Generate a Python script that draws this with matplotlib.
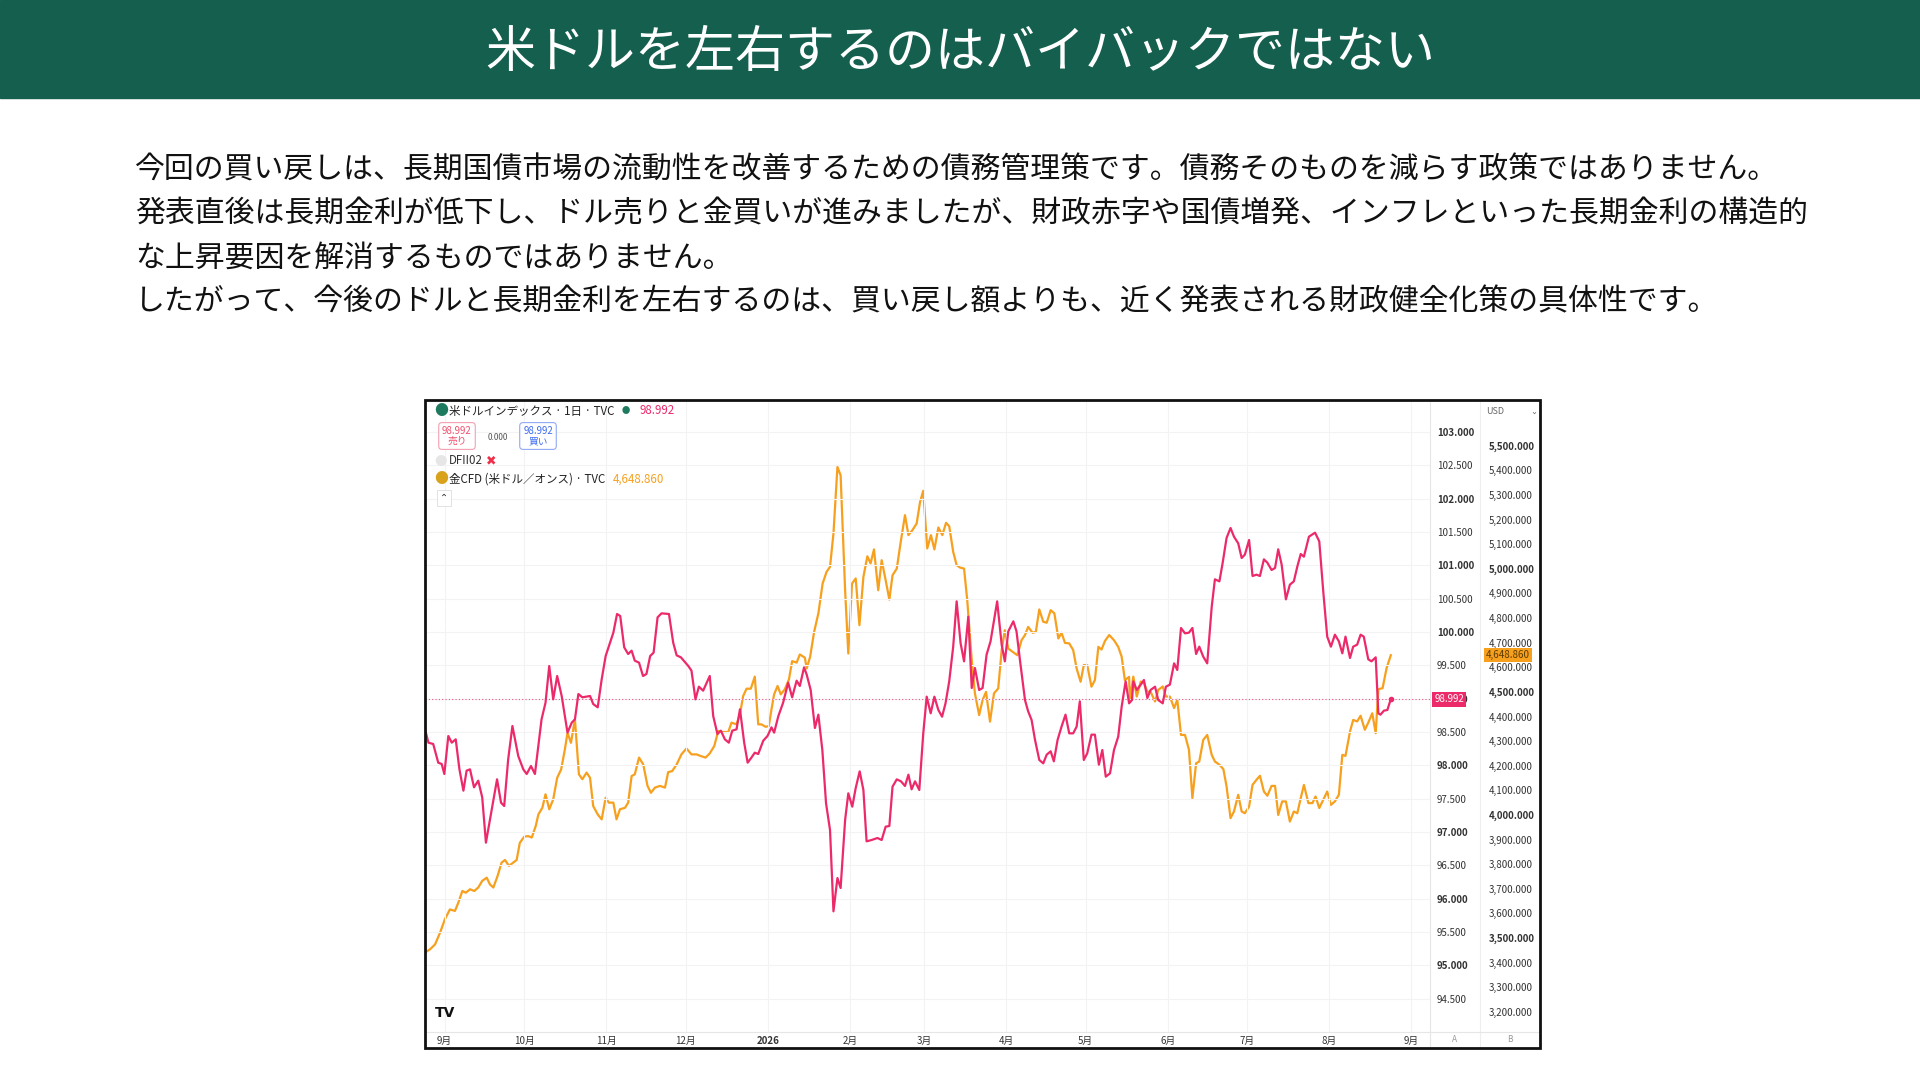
import numpy as np
import pandas as pd
import matplotlib
matplotlib.use("Agg")
import matplotlib.pyplot as plt
from matplotlib.patches import Rectangle

plt.rcParams['font.family'] = ['Noto Sans CJK JP', 'DejaVu Sans']

# ---- text ----
title = "米ドルを左右するのはバイバックではない"
body = [
    "今回の買い戻しは、長期国債市場の流動性を改善するための債務管理策です。債務そのものを減らす政策ではありません。",
    "発表直後は長期金利が低下し、ドル売りと金買いが進みましたが、財政赤字や国債増発、インフレといった長期金利の構造的",
    "な上昇要因を解消するものではありません。",
    "したがって、今後のドルと長期金利を左右するのは、買い戻し額よりも、近く発表される財政健全化策の具体性です。",
]

# ---- data (days since 2025-09-01) ----
dxy_day = [-7.4, -6.1, -4.3, -2.4, -1.1, -0.1, 1.4, 2.7, 4.2, 5.6, 7.1, 8.3, 9.6, 11.1, 12.7, 14.2, 15.6, 17.8,
           19.8, 21.3, 22.5, 24.0, 25.6, 27.8, 29.7, 31.0, 32.6, 34.1, 36.6, 38.1, 39.5, 41.0, 42.5, 44.2, 46.4,
           48.0, 49.2, 50.5, 52.0, 54.9, 56.1, 57.8, 59.3, 60.8, 63.7, 65.1, 66.3, 67.8, 69.3, 70.6, 71.8, 73.4,
           74.9, 76.2, 77.6, 78.9, 80.4, 81.9, 84.7, 86.3, 87.6, 89.2, 92.0, 93.2, 94.7, 96.0, 97.6, 100.1, 101.4,
           103.0, 104.3, 105.8, 107.3, 108.6, 110.2, 111.5, 113.1, 114.4, 115.9, 117.1, 118.4, 120.3, 121.9, 123.4,
           124.4, 126.0, 127.8, 129.7, 131.2, 132.9, 134.1, 135.7,
           136.7, 138.2, 139.8, 141.1, 142.6, 144.0, 145.5, 146.8, 148.3, 149.5, 151.2, 152.4, 153.9, 155.2, 156.7,
           158.1, 159.3, 161.2, 163.4, 165.0, 166.5, 167.9, 169.1, 170.7, 172.3, 173.8, 175.1, 176.3, 177.6, 179.2,
           180.7, 182.0, 183.5, 184.9, 186.4, 187.8, 189.1, 190.5, 192.0, 193.3, 194.8, 196.1, 197.7, 199.0, 200.2,
           201.8, 203.1, 204.6, 206.1, 208.6, 210.3, 211.5, 212.8, 214.7, 215.9, 217.2, 219.1, 220.3, 221.6, 222.9,
           224.5, 226.0, 227.3, 228.8, 230.0, 231.4, 232.9, 234.4, 235.8, 237.3, 238.6, 239.8, 241.3, 242.6, 244.2,
           245.5, 247.0, 248.3, 249.6, 251.2, 252.7, 254.3, 255.6, 257.1, 258.4,
           259.5, 260.0, 261.3, 262.8, 264.0, 265.3, 266.5, 268.2, 269.4, 271.1, 272.3, 273.8, 275.4, 276.6, 278.0,
           279.5, 281.0, 282.3, 283.7, 284.9, 286.4, 287.9, 289.6, 290.8, 292.5, 293.7, 295.2, 296.7, 298.0, 299.6,
           300.9, 302.1, 303.7, 305.0, 306.5, 307.8, 309.3, 310.6, 312.2, 313.5, 314.7, 316.0, 317.6, 319.1, 320.6,
           321.9, 323.2, 324.4, 326.3, 328.6, 330.2, 331.7, 333.2, 334.6, 336.1, 337.6, 338.9, 340.1, 341.8, 343.0,
           344.5, 345.8, 347.0, 348.7, 349.9, 351.5, 352.5, 353.3, 354.6, 355.9, 357.2]
dxy_val = [98.54, 98.34, 98.32, 98.04, 98.02, 97.87, 98.44, 98.34, 98.39, 97.94, 97.62, 97.92, 97.94, 97.67, 97.77,
           97.52, 96.84, 97.34, 97.79, 97.44, 97.39, 98.09, 98.59, 98.14, 97.94, 97.87, 97.99, 97.87, 98.69, 98.94,
           99.49, 98.99, 99.34, 99.04, 98.49, 98.64, 98.69, 99.07, 99.02, 99.04, 98.92, 98.87, 99.29, 99.64, 99.99,
           100.27, 100.24, 99.77, 99.67, 99.72, 99.57, 99.54, 99.34, 99.37, 99.64, 99.69, 100.22, 100.28, 100.27,
           99.84, 99.65, 99.62, 99.49, 99.42, 98.99, 99.18, 99.12, 99.34, 98.74, 98.47, 98.52, 98.39, 98.34, 98.52,
           98.54, 98.84, 98.34, 98.04, 98.12, 98.19, 98.17, 98.37, 98.44, 98.57, 98.49, 98.74, 98.94, 99.24, 99.02,
           99.27, 99.19, 99.47,
           99.36, 99.13, 98.56, 98.76, 98.23, 97.43, 97.03, 95.81, 96.31, 96.16, 97.18, 97.58, 97.38, 97.66, 97.91,
           97.63, 96.86, 96.88, 96.91, 96.88, 97.08, 97.09, 97.68, 97.79, 97.76, 97.69, 97.86, 97.64, 97.76, 97.63,
           98.48, 99.03, 98.78, 99.03, 98.83, 98.73, 98.93, 99.26, 99.78, 100.46, 99.83, 99.56, 100.23, 99.16, 99.46,
           99.13, 99.16, 99.66, 99.86, 100.46, 99.81, 99.56, 100.01, 100.16, 100.01, 99.58, 98.98, 98.81, 98.68,
           98.38, 98.08, 98.03, 98.16, 98.21, 98.06, 98.38, 98.58, 98.76, 98.48, 98.48, 98.58, 98.96, 98.08, 98.18,
           98.46, 98.46, 98.01, 98.23, 97.83, 97.88, 98.23, 98.43, 98.88, 99.26, 98.93,
           98.98, 99.26, 99.13, 99.21, 99.28, 99.01, 99.13, 99.18, 98.98, 98.93, 99.18, 99.21, 99.53, 99.43, 100.06,
           99.98, 99.99, 100.06, 99.67, 99.78, 99.63, 99.53, 100.38, 100.79, 100.76, 101.03, 101.41, 101.56, 101.43,
           101.33, 101.11, 101.16, 101.38, 100.84, 100.86, 100.84, 101.09, 101.04, 100.93, 100.96, 101.24, 101.01,
           100.49, 100.71, 100.76, 100.98, 101.17, 101.13, 101.43, 101.49, 101.36, 100.61, 99.93, 99.78, 99.96,
           99.86, 99.68, 99.93, 99.61, 99.78, 99.81, 99.96, 99.93, 99.59, 99.56, 99.62, 98.78, 98.76, 98.82, 98.83,
           98.992]

gold_day = [-7.4, -5.5, -3.6, -1.7, 0.1, 2.0, 3.9, 5.2, 6.7, 8.0, 9.6, 11.2, 12.7, 14.2, 15.9, 17.1, 18.4, 20.0,
            21.5, 22.8, 24.3, 25.9, 27.2, 28.4, 30.1, 31.6, 32.9, 34.4, 35.4, 36.9, 38.1, 39.5, 41.0, 42.5, 44.0,
            45.4, 46.4, 47.7, 49.2, 50.7, 52.0, 53.6, 54.9, 56.1, 57.8, 59.3, 60.8, 62.0, 63.7, 64.9, 66.2, 68.1,
            69.3, 70.6, 71.8, 73.4, 75.0, 76.6, 77.9, 79.4, 81.3, 83.2, 84.4, 85.9, 87.6, 89.4, 91.3, 93.2, 95.1,
            96.8, 98.5, 100.1, 101.8, 103.3, 104.5, 107.1, 108.3, 110.2, 111.5, 112.7, 114.0, 115.6, 117.1, 118.4,
            119.6, 121.2, 122.4, 123.4, 124.4, 125.7, 126.9, 128.4, 130.0, 131.2, 132.9, 134.1, 136.0,
            136.7, 138.0, 139.5, 141.1, 142.7, 144.2, 145.5, 146.8, 148.3, 149.5, 151.2, 152.4, 153.8, 155.2, 156.6,
            158.1, 159.6, 160.8, 162.1, 163.7, 165.0, 166.5, 167.9, 169.1, 170.7, 172.2, 173.8, 175.1, 176.6, 178.2,
            179.5, 180.7, 182.2, 183.6, 184.9, 186.4, 187.9, 189.3, 190.5, 192.0, 193.3, 194.6, 196.1, 197.3, 199.0,
            200.2, 201.8, 203.1, 204.4, 205.9, 207.4, 209.0, 210.3, 211.5, 212.8, 214.4, 216.2, 217.8, 219.1, 220.3,
            222.0, 223.2, 224.5, 226.0, 227.3, 228.8, 230.2, 231.7, 232.9, 234.2, 235.8, 237.3, 238.6, 240.1, 241.3,
            242.6, 244.2, 245.5, 246.8, 248.0, 249.3, 250.9, 252.7, 254.3, 255.6, 256.8, 258.4,
            258.7, 260.0, 261.3, 262.8, 264.0, 265.3, 266.5, 268.2, 269.4, 271.1, 272.3, 273.8, 275.4, 276.6, 278.0,
            279.5, 281.0, 282.3, 283.7, 284.9, 286.4, 287.9, 289.6, 290.8, 292.5, 294.0, 295.2, 296.7, 298.0, 299.6,
            300.9, 302.1, 303.7, 305.0, 306.5, 307.8, 309.3, 310.6, 312.2, 313.5, 314.7, 316.2, 317.6, 319.1, 320.6,
            321.9, 323.2, 324.4, 326.1, 327.6, 328.8, 330.2, 331.7, 333.2, 334.6, 336.1, 337.6, 338.9, 340.1, 341.8,
            343.0, 344.5, 345.8, 347.4, 348.7, 350.2, 351.5, 352.5, 354.1, 355.6, 357.2]
gold_val = [3441, 3454, 3474, 3522, 3576, 3616, 3610, 3644, 3691, 3684, 3698, 3691, 3705, 3732, 3745, 3718, 3705,
            3752, 3806, 3817, 3793, 3806, 3817, 3887, 3912, 3914, 3908, 3955, 4002, 4029, 4084, 4023, 4063, 4151,
            4185, 4266, 4334, 4293, 4388, 4165, 4145, 4172, 4151, 4036, 4002, 3982, 4070, 4050, 4050, 3982, 4023,
            4029, 4050, 4158, 4165, 4233, 4205, 4118, 4090, 4111, 4118, 4111, 4174, 4178, 4205, 4246, 4270, 4246,
            4246, 4239, 4233, 4250, 4280, 4341, 4337, 4337, 4375, 4368, 4409, 4483, 4513, 4513, 4562, 4368, 4368,
            4358, 4361, 4429, 4490, 4524, 4490, 4510, 4551, 4625, 4619, 4652, 4639,
            4595, 4643, 4744, 4819, 4940, 4988, 5008, 5144, 5414, 5380, 4913, 4656, 4940, 4961, 4771, 4967, 5051,
            5022, 5079, 4913, 5035, 4954, 4875, 4974, 5001, 5110, 5218, 5137, 5157, 5184, 5272, 5317, 5083, 5137,
            5079, 5168, 5137, 5187, 5173, 5069, 5015, 5005, 5001, 4873, 4629, 4494, 4406, 4467, 4500, 4379, 4494,
            4514, 4670, 4751, 4676, 4663, 4649, 4710, 4731, 4764, 4740, 4744, 4835, 4785, 4781, 4832, 4819, 4717,
            4740, 4699, 4697, 4670, 4595, 4541, 4609, 4609, 4521, 4548, 4683, 4672, 4707, 4731, 4710, 4683, 4643,
            4548, 4561,
            4468, 4562, 4481, 4542, 4535, 4501, 4501, 4461, 4508, 4522, 4481, 4481, 4434, 4468, 4325, 4325, 4265,
            4068, 4210, 4217, 4305, 4325, 4244, 4217, 4204, 4186, 4116, 3987, 4014, 4082, 4014, 4007, 4034, 4122,
            4143, 4159, 4095, 4078, 4118, 4118, 4000, 4055, 4055, 3973, 4014, 4007, 4068, 4122, 4048, 4048, 4075,
            4028, 4061, 4095, 4041, 4055, 4082, 4244, 4240, 4339, 4386, 4380, 4403, 4346, 4375, 4413, 4332, 4511,
            4515, 4596, 4648.86]

month_labels = ["9月", "10月", "11月", "12月", "2026", "2月", "3月", "4月", "5月", "6月", "7月", "8月", "9月"]
dxy_last = 98.992
gold_last = 4648.86

PINK = "#ec2a6a"
GOLD = "#f7a01e"
GREEN = "#155f4f"

W, H = 1920, 1080
fig = plt.figure(figsize=(19.2, 10.8), dpi=100)
fig.patch.set_facecolor("white")

# header band
fig.patches.append(Rectangle((0, 1 - 98 / H), 1, 98 / H, transform=fig.transFigure, color=GREEN, zorder=0))
fig.text(0.5, 1 - 53 / H, title, color="white", fontsize=36, ha="center", va="center")

for i, line in enumerate(body):
    fig.text(135 / W, 1 - (170 + 44 * i) / H, line, fontsize=21.5, color="#111111", va="center")

# chart frame
L, R, T, B = 425 / W, 1540 / W, 1 - 400 / H, 1 - 1048 / H
axr = 1430 / W
axb = 1 - 1032 / H
ax = fig.add_axes([L, axb, axr - L, T - axb])
ax2 = ax.twinx()

start = pd.Timestamp("2025-09-01")
dxy_t = start + pd.to_timedelta(dxy_day, unit="D")
gold_t = start + pd.to_timedelta(gold_day, unit="D")

ax.plot(dxy_t, dxy_val, color=PINK, lw=1.6, zorder=3)
ax.plot(dxy_t[-1:], [dxy_last], "o", color=PINK, ms=3, zorder=4)
ax.axhline(dxy_last, color=PINK, lw=0.8, ls=(0, (1, 2)), alpha=0.8)
ax2.plot(gold_t, gold_val, color=GOLD, lw=1.6, zorder=2)
ax.set_zorder(ax2.get_zorder() + 1)
ax.patch.set_visible(False)

ax.set_xlim(start + pd.Timedelta(days=-7.4), start + pd.Timedelta(days=372))
ax.set_ylim(94.0, 103.48)
ax2.set_ylim(3118, 5686)

# month ticks
ticks = pd.date_range("2025-09-01", "2026-09-01", freq="MS")
ax.set_xticks(ticks)
ax.set_xticklabels(month_labels, fontsize=7, color="#333333")
for lab in ax.get_xticklabels():
    if lab.get_text() == "2026":
        lab.set_fontweight("bold")
ax.tick_params(axis="x", length=0, pad=3)
ax.grid(axis="x", color="#f3f3f3", lw=0.8)

# scale A (dollar index)
dxy_ticks = np.arange(94.5, 103.01, 0.5)
ax.yaxis.tick_right()
ax.set_yticks(dxy_ticks)
ax.set_yticklabels([f"{v:.3f}" for v in dxy_ticks], fontsize=7, color="#333333")
for lab, v in zip(ax.get_yticklabels(), dxy_ticks):
    if v == int(v):
        lab.set_fontweight("bold")
ax.tick_params(axis="y", length=0, pad=5)
ax.grid(axis="y", color="#f3f3f3", lw=0.8)

# scale B (gold)
gold_ticks = np.arange(3200, 5501, 100)
ax2.set_yticks(gold_ticks)
ax2.set_yticklabels([f"{int(v // 1000)},{int(v % 1000):03d}.000" for v in gold_ticks], fontsize=7, color="#333333")
for lab, v in zip(ax2.get_yticklabels(), gold_ticks):
    if v % 500 == 0:
        lab.set_fontweight("bold")
ax2.tick_params(axis="y", length=0, pad=42)

for a in (ax, ax2):
    for s in a.spines.values():
        s.set_visible(False)

# price badges
ax.annotate(f"{dxy_last:.3f}", xy=(1, dxy_last), xycoords=("axes fraction", "data"), xytext=(3, 0),
            textcoords="offset points", fontsize=7, color="white", va="center", ha="left",
            bbox=dict(boxstyle="square,pad=0.25", fc=PINK, ec="none"))
ax2.annotate("4,648.860", xy=(1, gold_last), xycoords=("axes fraction", "data"), xytext=(40, 0),
             textcoords="offset points", fontsize=7, color="#5a3a00", va="center", ha="left",
             bbox=dict(boxstyle="square,pad=0.2", fc=GOLD, ec="none"))

# frame and separators
fig.patches.append(Rectangle((L, B), R - L, T - B, transform=fig.transFigure, fill=False, ec="#111111", lw=2, zorder=10))
fig.add_artist(plt.Line2D([axr, axr], [B, T], transform=fig.transFigure, color="#e6e6e6", lw=0.8))
fig.add_artist(plt.Line2D([1480 / W, 1480 / W], [B, T], transform=fig.transFigure, color="#eeeeee", lw=0.8))
fig.add_artist(plt.Line2D([L, R], [axb, axb], transform=fig.transFigure, color="#e6e6e6", lw=0.8))
fig.text(1455 / W, 1 - 1040 / H, "A", fontsize=6, color="#999999", ha="center", va="center")
fig.text(1510 / W, 1 - 1040 / H, "B", fontsize=6, color="#999999", ha="center", va="center")
fig.text(1486 / W, 1 - 411 / H, "USD", fontsize=6.5, color="#666666", va="center")
fig.text(1530 / W, 1 - 411 / H, "⌄", fontsize=6, color="#666666", va="center", family="DejaVu Sans")

# legend block
fs = 8.3
fig.text(434 / W, 1 - 411 / H, "●", fontsize=10, color="#1e7a5f", va="center")
fig.text(449 / W, 1 - 411 / H, "米ドルインデックス · 1日 · TVC", fontsize=fs, color="#222222", va="center")
fig.text(622 / W, 1 - 411 / H, "●", fontsize=6, color="#1e7a5f", va="center")
fig.text(640 / W, 1 - 411 / H, "98.992", fontsize=fs, color=PINK, va="center")
fig.text(457 / W, 1 - 436 / H, "98.992\n売り", fontsize=7, color="#f0506e", va="center", ha="center",
         linespacing=1.0, bbox=dict(boxstyle="round,pad=0.35", fc="white", ec="#f3a0b0", lw=0.8))
fig.text(498 / W, 1 - 437 / H, "0.000", fontsize=6, color="#555555", va="center", ha="center")
fig.text(538 / W, 1 - 436 / H, "98.992\n買い", fontsize=7, color="#3c6cf0", va="center", ha="center",
         linespacing=1.0, bbox=dict(boxstyle="round,pad=0.35", fc="white", ec="#90aaf5", lw=0.8))
fig.text(434 / W, 1 - 461 / H, "●", fontsize=9, color="#e6e6e6", va="center")
fig.text(449 / W, 1 - 461 / H, "DFII02", fontsize=fs, color="#333333", va="center")
fig.text(486 / W, 1 - 461 / H, "✖", fontsize=9, color="#f0304a", va="center", family="DejaVu Sans")
fig.text(434 / W, 1 - 479 / H, "●", fontsize=10, color="#d9a21b", va="center")
fig.text(449 / W, 1 - 479 / H, "金CFD (米ドル／オンス) · TVC", fontsize=fs, color="#222222", va="center")
fig.text(613 / W, 1 - 479 / H, "4,648.860", fontsize=fs, color=GOLD, va="center")
fig.text(444 / W, 1 - 498 / H, "⌃", fontsize=7, color="#333333", va="center", ha="center", family="DejaVu Sans",
         bbox=dict(boxstyle="square,pad=0.3", fc="white", ec="#dddddd", lw=0.6))
fig.text(435 / W, 1 - 1013 / H, "TV", fontsize=10, fontweight="bold", color="#111111", va="center",
         family="DejaVu Sans")

fig.savefig("out.png", dpi=100)
